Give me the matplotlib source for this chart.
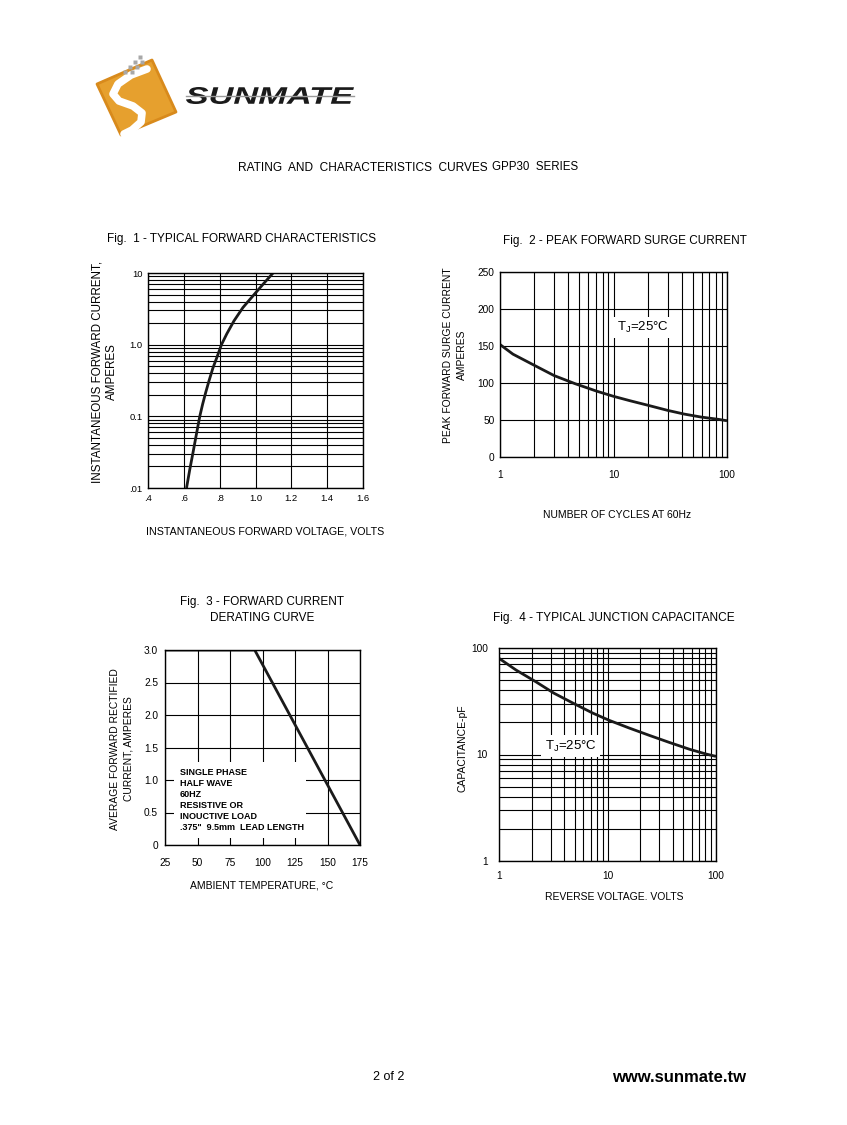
import numpy as np
import matplotlib.pyplot as plt
from matplotlib.patches import Rectangle, Polygon, PathPatch
from matplotlib.ticker import LogLocator, NullFormatter
from matplotlib.textpath import TextPath
from matplotlib.font_manager import FontProperties
from matplotlib.transforms import Affine2D

plt.rcParams['font.family'] = ['Liberation Sans', 'DejaVu Sans']

# Fig.1 typical forward characteristics
fwd_volts = [0.615, 0.633, 0.652, 0.670, 0.689, 0.705, 0.722, 0.740, 0.762,
             0.785, 0.810, 0.840, 0.880, 0.930, 0.995, 1.045, 1.098]
fwd_amps = [0.01, 0.018, 0.032, 0.056, 0.1, 0.148, 0.215, 0.31, 0.47,
            0.67, 1.0, 1.42, 2.15, 3.3, 5.1, 7.1, 10.0]
fwd_xticks = [0.4, 0.6, 0.8, 1.0, 1.2, 1.4, 1.6]
fwd_xlabels = ['.4', '.6', '.8', '1.0', '1.2', '1.4', '1.6']
fwd_yticks = [0.01, 0.1, 1.0, 10]
fwd_ylabels = ['.01', '0.1', '1.0', '10']

# Fig.2 peak forward surge current
surge_cycles = [1, 1.3, 2, 3, 4.6, 7.1, 10, 14, 20, 30, 42, 59, 83, 100]
surge_amps = [152, 139, 124, 110, 99, 89, 82, 76, 70, 63, 58, 54, 51, 49]
surge_yticks = [0, 50, 100, 150, 200, 250]

# Fig.3 derating curve
derate_temp = [25, 94, 175]
derate_amps = [3.0, 3.0, 0.0]
derate_xticks = [25, 50, 75, 100, 125, 150, 175]
derate_yticks = [0, 0.5, 1.0, 1.5, 2.0, 2.5, 3.0]
derate_ylabels = ['0', '0.5', '1.0', '1.5', '2.0', '2.5', '3.0']
derate_note = 'SINGLE PHASE\nHALF WAVE\n60HZ\nRESISTIVE OR\nINOUCTIVE LOAD\n.375"  9.5mm  LEAD LENGTH'

# Fig.4 junction capacitance
cap_volts = [1, 1.44, 2.2, 3.2, 4.8, 7.3, 10.4, 15.9, 24.4, 37, 57, 81, 100]
cap_pf = [80, 62, 48, 37.7, 30.4, 24.5, 20.9, 17.7, 15.1, 13.0, 11.2, 10.1, 9.6]

log_ticks = [1, 10, 100]
log_labels = ['1', '10', '100']
tj_text = r'T$_\mathregular{J}$=25°C'

W, H = 847, 1125
fig = plt.figure(figsize=(W / 100, H / 100), dpi=100)
bg = fig.add_axes([0, 0, 1, 1])
bg.set_xlim(0, W)
bg.set_ylim(H, 0)
bg.axis('off')


def box(l, t, r, b):
    return [l / W, 1 - b / H, (r - l) / W, (b - t) / H]


def style(ax, size=7.5, pad=4):
    ax.set_axisbelow(True)
    ax.grid(which='both', color='k', lw=0.8)
    ax.tick_params(which='both', length=0, labelsize=size, pad=pad)
    for s in ax.spines.values():
        s.set_linewidth(1.0)


def minor_log(axis):
    axis.set_minor_locator(LogLocator(base=10, subs=range(2, 10)))
    axis.set_minor_formatter(NullFormatter())


curve = dict(color='#1a1a1a', lw=2.0, solid_capstyle='butt', solid_joinstyle='round')

# ---- Fig 1
ax1 = fig.add_axes(box(148, 273, 363, 488))
ax1.set_yscale('log')
ax1.set_xlim(0.4, 1.6)
ax1.set_ylim(0.01, 10)
ax1.plot(fwd_volts, fwd_amps, **curve)
ax1.set_xticks(fwd_xticks, fwd_xlabels)
ax1.set_yticks(fwd_yticks, fwd_ylabels)
minor_log(ax1.yaxis)
style(ax1, 6.8, 4)

# ---- Fig 2
ax2 = fig.add_axes(box(500, 272, 727, 457))
ax2.set_xscale('log')
ax2.set_xlim(1, 100)
ax2.set_ylim(0, 250)
ax2.plot(surge_cycles, surge_amps, **curve)
ax2.set_xticks(log_ticks, log_labels)
ax2.set_yticks(surge_yticks)
minor_log(ax2.xaxis)
style(ax2, 7.3, 4)
ax2.tick_params(axis='x', pad=9)
ax2.text(0.515, 0.70, tj_text, transform=ax2.transAxes, fontsize=9.5, va='center',
         bbox=dict(fc='white', ec='none', pad=2.5))

# ---- Fig 3
ax3 = fig.add_axes(box(165, 650, 360, 845))
ax3.set_xlim(25, 175)
ax3.set_ylim(0, 3.0)
ax3.plot(derate_temp, derate_amps, **curve)
ax3.set_xticks(derate_xticks)
ax3.set_yticks(derate_yticks, derate_ylabels)
style(ax3, 7.3, 5)
ax3.tick_params(axis='x', pad=9)
ax3.add_patch(Rectangle((32, 0.11), 101.5, 1.16, fc='white', ec='none', zorder=1))
ax3.text(36.5, 1.19, derate_note, fontsize=6.5, fontweight='bold', va='top',
         linespacing=1.3, zorder=3)

# ---- Fig 4
ax4 = fig.add_axes(box(499, 648, 716, 861))
ax4.set_xscale('log')
ax4.set_yscale('log')
ax4.set_xlim(1, 100)
ax4.set_ylim(1, 100)
ax4.plot(cap_volts, cap_pf, **curve)
ax4.set_xticks(log_ticks, log_labels)
ax4.set_yticks(log_ticks, log_labels)
minor_log(ax4.xaxis)
minor_log(ax4.yaxis)
style(ax4, 7.3, 8)
ax4.tick_params(axis='x', pad=7)
ax4.text(0.21, 0.54, tj_text, transform=ax4.transAxes, fontsize=9.5, va='center',
         bbox=dict(fc='white', ec='none', pad=2.5))

# ---- titles and labels (page pixel coordinates)
bg.text(107, 239, 'Fig.  1 - TYPICAL FORWARD CHARACTERISTICS', fontsize=8.5, va='center')
bg.text(503, 241, 'Fig.  2 - PEAK FORWARD SURGE CURRENT', fontsize=8.5, va='center')
bg.text(262, 610, 'Fig.  3 - FORWARD CURRENT\nDERATING CURVE', fontsize=8.5,
        ha='center', va='center', linespacing=1.45)
bg.text(493, 618, 'Fig.  4 - TYPICAL JUNCTION CAPACITANCE', fontsize=8.6, va='center')

bg.text(265, 532, 'INSTANTANEOUS FORWARD VOLTAGE, VOLTS', fontsize=7.65, ha='center', va='center')
bg.text(617, 515, 'NUMBER OF CYCLES AT 60Hz', fontsize=7.5, ha='center', va='center')
bg.text(262, 885, 'AMBIENT TEMPERATURE, °C', fontsize=7.5, ha='center', va='center')
bg.text(614, 897, 'REVERSE VOLTAGE. VOLTS', fontsize=7.5, ha='center', va='center')

bg.text(104.5, 372, 'INSTANTANEOUS FORWARD CURRENT,\nAMPERES', fontsize=8.4, rotation=90,
        ha='center', va='center', linespacing=1.25)
bg.text(455, 355, 'PEAK FORWARD SURGE CURRENT\nAMPERES', fontsize=7.4, rotation=90,
        ha='center', va='center', linespacing=1.4)
bg.text(122, 749, 'AVERAGE FORWARD RECTIFIED\nCURRENT, AMPERES', fontsize=7.4, rotation=90,
        ha='center', va='center', linespacing=1.4)
bg.text(463, 748, 'CAPACITANCE-pF', fontsize=7.5, rotation=90, ha='center', va='center')

# header / footer
bg.text(238, 168, 'RATING  AND  CHARACTERISTICS  CURVES', fontsize=8.6, va='center')
bg.text(492, 167, 'GPP30  SERIES', fontsize=8.3, va='center')
bg.text(389, 1077, '2 of 2', fontsize=9, ha='center', va='center')
bg.text(746, 1077, 'www.sunmate.tw', fontsize=12, fontweight='bold', ha='right', va='center')

# ---- logo
bg.add_patch(Polygon([(97, 84), (152, 60), (176, 112), (121, 135)], closed=True,
                     fc='#E6A02E', ec='#D88A1C', lw=2, joinstyle='round'))
s_x = [147, 131, 118, 113, 119, 133, 142, 141, 132, 124]
s_y = [69, 75, 84, 94, 101, 106, 113, 122, 130, 134]
bg.plot(s_x, s_y, color='white', lw=5.5, solid_capstyle='round', solid_joinstyle='round')
dot_x = [140, 135, 142, 130, 137, 125, 132]
dot_y = [57, 62, 62, 67, 67, 72, 72]
bg.plot(dot_x, dot_y, 's', color='#A8A8A8', ms=3, mec='none')

fp = FontProperties(family='Liberation Sans', weight='bold', style='italic')
tp = TextPath((0, 0), 'SUNMATE', size=20, prop=fp)
ext = tp.get_extents()
tr = (Affine2D().translate(-ext.x0, -ext.y0)
      .scale(168 / ext.width, -17 / ext.height).translate(186, 104))
bg.add_patch(PathPatch(tr.transform_path(tp), fc='#1a1a1a', ec='none'))
bg.plot([186, 354], [96, 96], color='#9a9a9a', lw=1.0)

fig.savefig('out.png', dpi=100)
